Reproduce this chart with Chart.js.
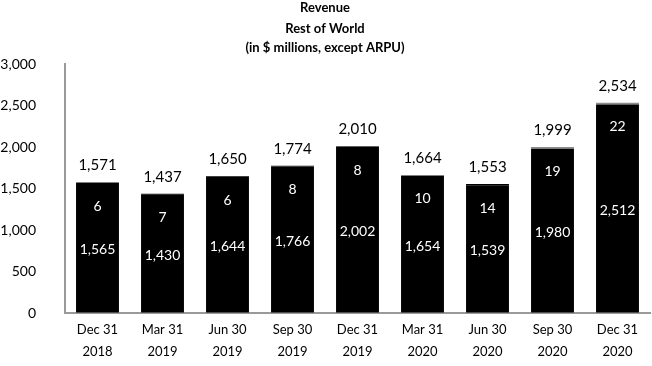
<!DOCTYPE html>
<html>
<head>
<meta charset="utf-8">
<script src="https://cdn.jsdelivr.net/npm/chart.js@4"></script>
<style>
html,body{margin:0;padding:0;background:#fff;}
#wrap{width:652px;height:366px;position:relative;}
</style>
</head>
<body>
<div id="wrap"><canvas id="c" width="652" height="366"></canvas></div>
<script>
const categories = [["Dec 31","2018"],["Mar 31","2019"],["Jun 30","2019"],["Sep 30","2019"],["Dec 31","2019"],["Mar 31","2020"],["Jun 30","2020"],["Sep 30","2020"],["Dec 31","2020"]];
const coreRevenue = [1565,1430,1644,1766,2002,1654,1539,1980,2512];
const otherRevenue = [6,7,6,8,8,10,14,19,22];
const totalRevenue = [1571,1437,1650,1774,2010,1664,1553,1999,2534];
const titleLines = ["Revenue","Rest of World","(in $ millions, except ARPU)"];
const otherColors = ["#000","#000","#000","#000","#000","#8c8c8c","#000","#8c8c8c","#8c8c8c"];

const FONT = "Lato, 'Open Sans', sans-serif";
const fmt = v => v.toLocaleString('en-US');

const labelPlugin = {
  id: 'labels',
  afterDatasetsDraw(chart) {
    const ctx = chart.ctx;
    const m0 = chart.getDatasetMeta(0), m1 = chart.getDatasetMeta(1);
    ctx.save();
    ctx.textAlign = 'center';
    ctx.textBaseline = 'middle';
    m0.data.forEach((bar, i) => {
      const top = m1.data[i].y;
      ctx.font = "14px " + FONT;
      ctx.fillStyle = '#fff';
      ctx.fillText(fmt(coreRevenue[i]), bar.x, (bar.y + bar.base) / 2 + 2);
      ctx.fillText(fmt(otherRevenue[i]), bar.x, top + 24);
      ctx.fillStyle = '#000';
      ctx.font = "15px " + FONT;
      ctx.fillText(fmt(totalRevenue[i]), bar.x, top - 17);
    });
    ctx.restore();
  },
  afterDraw(chart) {
    const ctx = chart.ctx;
    ctx.save();
    ctx.textAlign = 'center';
    ctx.textBaseline = 'middle';
    ctx.fillStyle = '#000';
    ctx.font = "bold 13px " + FONT;
    const ys = [8, 29, 48];
    titleLines.forEach((t, i) => ctx.fillText(t, 325, ys[i]));
    ctx.restore();
  }
};

new Chart(document.getElementById('c'), {
  type: 'bar',
  data: {
    labels: categories,
    datasets: [
      { label: 'Core', data: coreRevenue, backgroundColor: '#000', borderWidth: 0 },
      { label: 'Other', data: otherRevenue, backgroundColor: otherColors, borderWidth: 0 }
    ]
  },
  options: {
    responsive: false,
    animation: false,
    layout: { padding: { top: 64, right: 2, left: 0, bottom: 0 } },
    datasets: { bar: { barPercentage: 0.66, categoryPercentage: 1 } },
    plugins: { legend: { display: false }, tooltip: { enabled: false }, title: { display: false } },
    scales: {
      x: {
        stacked: true,
        afterFit: s => { s.height = 53; },
        grid: { display: true, drawOnChartArea: false, drawTicks: false },
        border: { display: true, color: '#9a9a9a', width: 2 },
        ticks: { color: '#000', font: { family: FONT, size: 13, lineHeight: '22px' }, padding: 6, maxRotation: 0, autoSkip: false }
      },
      y: {
        stacked: true,
        min: 0, max: 3000,
        afterFit: s => { s.width = 65; },
        grid: { display: true, drawOnChartArea: false, drawTicks: false },
        border: { display: true, color: '#9a9a9a', width: 2 },
        ticks: { stepSize: 500, color: '#000', font: { family: FONT, size: 14 }, padding: 29 }
      }
    }
  },
  plugins: [labelPlugin]
});
</script>
</body>
</html>
